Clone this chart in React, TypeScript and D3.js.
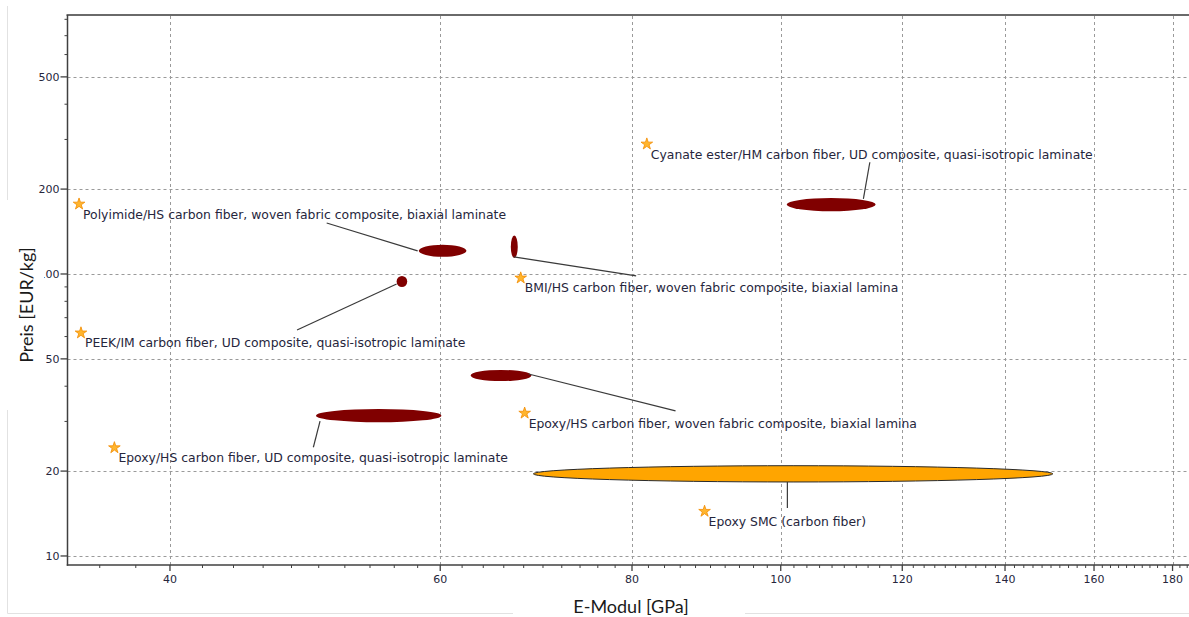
import React from "react";
import * as d3 from "d3";

// material bubbles: E-Modul range [GPa] and price range [EUR/kg]
const materials = [
  "Polyimide/HS carbon fiber, woven fabric composite, biaxial laminate",
  "BMI/HS carbon fiber, woven fabric composite, biaxial lamina",
  "PEEK/IM carbon fiber, UD composite, quasi-isotropic laminate",
  "Cyanate ester/HM carbon fiber, UD composite, quasi-isotropic laminate",
  "Epoxy/HS carbon fiber, woven fabric composite, biaxial lamina",
  "Epoxy/HS carbon fiber, UD composite, quasi-isotropic laminate",
  "Epoxy SMC (carbon fiber)",
];
const eMin = [58.1, 66.7, 56.2, 100.9, 62.8, 49.8, 69.0];
const eMax = [62.4, 67.4, 57.1, 115.3, 68.8, 60.1, 150.4];
const pMin = [115, 114, 89.9, 167, 41.7, 29.8, 18.3];
const pMax = [127, 137, 98.4, 186, 45.7, 33.2, 20.9];
const highlighted = [false, false, false, false, false, false, true];

// label anchors (star) in data units
const labelE = [34.9, 67.7, 35.0, 81.8, 68.1, 36.8, 89.2];
const labelP = [177, 96.8, 61.8, 289, 32.1, 24.2, 14.4];

// leader lines: label end -> bubble end
const leadE1 = [50.6, 80.5, 48.4, 114.3, 85.4, 49.6, 101.0];
const leadP1 = [151.7, 98.4, 63.3, 249, 32.7, 24.3, 14.8];
const leadE2 = [58.0, 67.0, 56.2, 113.2, 68.5, 50.1, 101.0];
const leadP2 = [120.7, 115, 92.1, 184.5, 44.2, 30.1, 18.3];

const xTicks = [40, 60, 80, 100, 120, 140, 160, 180];
const yTicks = [10, 20, 50, 100, 200, 500];
const yTickLabels = ["10", "20", "50", "100", "200", "500"];
const yMinor = [30, 40, 60, 70, 80, 90, 300, 400, 600, 700, 800];

const W = 1189;
const H = 617;
const left = 67.5;
const top = 16;
const bottom = 565;

export default function App() {
  const x = d3.scaleLog().domain([34.3, 184.5]).range([left, W]);
  const y = d3.scaleLog().domain([9.29, 822]).range([bottom, top]);
  const xMinor = d3.range(36, 186, 2).filter((v) => !xTicks.includes(v));
  const star = d3.symbol().type(d3.symbolStar).size(42)()!;
  const font = "'DejaVu Sans', Verdana, sans-serif";
  const textColor = "#26263c";

  return (
    <svg width={W} height={H} style={{ display: "block", position: "absolute", left: 0, top: 0 }}>
      <defs>
        <clipPath id="ytl">
          <rect x={0} y={0} width={70} height={200} />
          <rect x={44} y={200} width={26} height={210} />
          <rect x={0} y={410} width={70} height={207} />
        </clipPath>
      </defs>
      <rect width={W} height={H} fill="#fff" />

      {/* faint outer frame */}
      <g stroke="#e2e2e2" strokeWidth={1}>
        <line x1={7.5} x2={7.5} y1={6} y2={200} />
        <line x1={7.5} x2={7.5} y1={410} y2={613.5} />
        <line x1={7.5} x2={513} y1={613.5} y2={613.5} />
        <line x1={745} x2={W} y1={613.5} y2={613.5} />
      </g>

      {/* grid */}
      <g stroke="#9a9a9a" strokeWidth={1} strokeDasharray="3,3">
        {xTicks.map((t) => (
          <line key={"gx" + t} x1={Math.round(x(t)) + 0.5} x2={Math.round(x(t)) + 0.5} y1={top} y2={bottom} />
        ))}
        {yTicks.map((t) => (
          <line key={"gy" + t} x1={left} x2={W} y1={Math.round(y(t)) + 0.5} y2={Math.round(y(t)) + 0.5} />
        ))}
      </g>

      {/* bubbles */}
      {materials.map((m, i) => {
        const x0 = x(eMin[i]);
        const x1 = x(eMax[i]);
        const y0 = y(pMax[i]);
        const y1 = y(pMin[i]);
        return (
          <ellipse
            key={"b" + i}
            cx={(x0 + x1) / 2}
            cy={(y0 + y1) / 2}
            rx={(x1 - x0) / 2}
            ry={(y1 - y0) / 2}
            fill={highlighted[i] ? "#ffa500" : "#800000"}
            stroke={highlighted[i] ? "#2a2a2a" : "none"}
            strokeWidth={1}
          />
        );
      })}

      {/* leader lines */}
      <g stroke="#3a3a3a" strokeWidth={1.2}>
        {materials.map((m, i) => (
          <line key={"l" + i} x1={x(leadE1[i])} y1={y(leadP1[i])} x2={x(leadE2[i])} y2={y(leadP2[i])} />
        ))}
      </g>

      {/* labels */}
      {materials.map((m, i) => {
        const sx = x(labelE[i]);
        const sy = y(labelP[i]);
        return (
          <g key={"t" + i}>
            <path d={star} transform={`translate(${sx},${sy})`} fill="#ffb52e" stroke="#f28c00" strokeWidth={0.8} />
            <text x={sx + 4} y={sy + 14.5} fontFamily={font} fontSize={12.4} fill={textColor}>
              {m}
            </text>
          </g>
        );
      })}

      {/* top border */}
      <line x1={left - 1} x2={W} y1={15} y2={15} stroke="#6a6a6a" strokeWidth={2} />

      {/* axes */}
      <g stroke="#404040">
        <line x1={left} x2={left} y1={top - 1} y2={bottom + 0.75} strokeWidth={1.5} />
        <line x1={left - 0.75} x2={W} y1={bottom} y2={bottom} strokeWidth={1.5} />
        {xTicks.map((t) => (
          <line key={"xt" + t} x1={x(t)} x2={x(t)} y1={bottom} y2={bottom + 6} strokeWidth={1.3} />
        ))}
        {xMinor.map((t) => (
          <line key={"xm" + t} x1={x(t)} x2={x(t)} y1={bottom} y2={bottom + 3} strokeWidth={1} />
        ))}
        {yTicks.map((t) => (
          <line key={"yt" + t} x1={left - 7} x2={left} y1={y(t)} y2={y(t)} strokeWidth={1.3} />
        ))}
        {yMinor.map((t) => (
          <line key={"ym" + t} x1={left - 3} x2={left} y1={y(t)} y2={y(t)} strokeWidth={1} />
        ))}
      </g>

      <g fontFamily={font} fontSize={11} fill={textColor}>
        {xTicks.map((t) => (
          <text key={"xl" + t} x={x(t)} y={583} textAnchor="middle">
            {t}
          </text>
        ))}
        <g clipPath="url(#ytl)">
          {yTicks.map((t, i) => (
            <text key={"yl" + t} x={59.5} y={y(t)} dy="0.36em" textAnchor="end">
              {yTickLabels[i]}
            </text>
          ))}
        </g>
      </g>

      {/* axis titles */}
      <text x={631} y={613} textAnchor="middle" fontFamily="Lato, 'Open Sans', sans-serif" fontSize={18} fill="#1a1a1a">
        E-Modul [GPa]
      </text>
      <text
        transform="translate(33,305) rotate(-90)"
        textAnchor="middle"
        fontFamily="Lato, 'Open Sans', sans-serif"
        fontSize={18}
        fill="#1a1a1a"
      >
        Preis [EUR/kg]
      </text>
    </svg>
  );
}
